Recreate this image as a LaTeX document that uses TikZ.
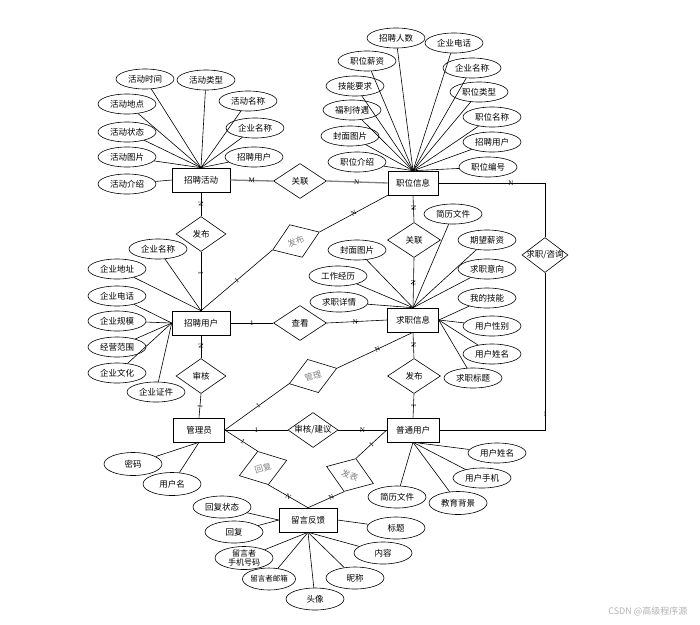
\documentclass[tikz,border=0pt]{standalone}
\usepackage{fontspec}
\setmainfont{Noto Sans CJK SC}
\newfontfamily\cardfont{Liberation Serif}
\usetikzlibrary{shapes.geometric}

\begin{document}
\begin{tikzpicture}[x=1pt,y=-1pt,line width=0.6pt,
  ent/.style={draw,minimum width=58pt,minimum height=24pt,inner sep=0pt,font=\fontsize{8.5}{10}\selectfont},
  attr/.style={ellipse,draw,minimum width=58pt,minimum height=20pt,inner sep=0pt,font=\fontsize{8.5}{10}\selectfont},
  rel/.style={diamond,draw,minimum width=50pt,minimum height=35pt,inner sep=0pt,font=\fontsize{8.5}{10}\selectfont},
  relg/.style={rel,text=gray},
  card/.style={font=\cardfont\fontsize{7}{8}\selectfont,sloped,inner sep=1pt}]
  \useasboundingbox (0,0) rectangle (700,624);

  \node[ent] (act) at (201,180) {招聘活动};
  \node[ent,minimum width=50pt] (job) at (413,183) {职位信息};
  \node[ent] (rec) at (201,323) {招聘用户};
  \node[ent,minimum width=51pt] (seek) at (413,320) {求职信息};
  \node[ent,minimum width=51pt] (admin) at (199,430) {管理员};
  \node[ent,minimum width=52pt] (user) at (413,430) {普通用户};
  \node[ent] (msg) at (308,520) {留言反馈};

  \node[rel,minimum width=53pt] (link1) at (300,181) {关联};
  \node[rel] (pub1) at (201,234) {发布};
  \node[relg,rotate=21] (pub2) at (296,241) {发布};
  \node[rel,minimum width=53pt] (view) at (300,323) {查看};
  \node[rel] (aud) at (201,376) {审核};
  \node[relg,rotate=18] (mgr) at (313,376) {管理};
  \node[rel,minimum width=53pt] (link2) at (414,240) {关联};
  \node[rel,minimum width=53pt] (pub3) at (414,376) {发布};
  \node[rel] (adv) at (313,430) {\makebox[0pt]{审核/建议}};
  \node[relg,rotate=18] (reply) at (263,468) {回复};
  \node[relg,rotate=-20] (post) at (350,475) {发表};
  \node[rel,minimum width=46pt] (ask) at (545,255) {\makebox[0pt]{求职/咨询}};

  \node[attr] (a1) at (145,79) {活动时间};
  \node[attr] (a2) at (206,80) {活动类型};
  \node[attr] (a3) at (127,104) {活动地点};
  \node[attr] (a4) at (248,101) {活动名称};
  \node[attr] (a5) at (127,132) {活动状态};
  \node[attr] (a6) at (255,128) {企业名称};
  \node[attr] (a7) at (127,157) {活动图片};
  \node[attr] (a8) at (254,157) {招聘用户};
  \node[attr] (a9) at (127,184) {活动介绍};

  \node[attr] (j1) at (396,38) {招聘人数};
  \node[attr] (j2) at (454,43) {企业电话};
  \node[attr] (j3) at (367,61) {职位薪资};
  \node[attr] (j4) at (472,68) {企业名称};
  \node[attr] (j5) at (355,86) {技能要求};
  \node[attr] (j6) at (479,92) {职位类型};
  \node[attr] (j7) at (352,110) {福利待遇};
  \node[attr] (j8) at (492,117) {职位名称};
  \node[attr] (j9) at (350,136) {封面图片};
  \node[attr] (j10) at (492,142) {招聘用户};
  \node[attr] (j11) at (357,162) {职位介绍};
  \node[attr] (j12) at (488,167) {职位编号};

  \node[attr] (r1) at (158,249) {企业名称};
  \node[attr] (r2) at (117,269) {企业地址};
  \node[attr] (r3) at (117,296) {企业电话};
  \node[attr] (r4) at (117,321) {企业规模};
  \node[attr] (r5) at (117,347) {经营范围};
  \node[attr] (r6) at (117,373) {企业文化};
  \node[attr] (r7) at (156,392) {企业证件};

  \node[attr] (s1) at (453,214) {简历文件};
  \node[attr] (s2) at (357,250) {封面图片};
  \node[attr] (s3) at (487,240) {期望薪资};
  \node[attr] (s4) at (338,276) {工作经历};
  \node[attr] (s5) at (487,269) {求职意向};
  \node[attr] (s6) at (339,302) {求职详情};
  \node[attr] (s7) at (487,298) {我的技能};
  \node[attr] (s8) at (492,326) {用户性别};
  \node[attr] (s9) at (492,354) {用户姓名};
  \node[attr] (s10) at (473,378) {求职标题};

  \node[attr,minimum height=23pt] (m1) at (133,464) {密码};
  \node[attr,minimum height=23pt] (m2) at (172,484) {用户名};

  \node[attr,minimum height=22pt] (f1) at (222,507) {回复状态};
  \node[attr,minimum height=22pt] (f2) at (234,532) {回复};
  \node[attr,minimum height=23pt,align=center,font=\fontsize{8}{8.5}\selectfont] (f3) at (244,558) {留言者\\手机号码};
  \node[attr,minimum width=50pt,minimum height=22pt,font=\fontsize{7.5}{9}\selectfont] (f4) at (269,579) {留言者邮箱};
  \node[attr,minimum height=22pt] (f5) at (315,599) {头像};
  \node[attr,minimum height=22pt] (f6) at (355,578) {昵称};
  \node[attr,minimum height=22pt] (f7) at (383,553) {内容};
  \node[attr,minimum height=22pt] (f8) at (396,528) {标题};

  \node[attr] (u1) at (497,453) {用户姓名};
  \node[attr] (u2) at (482,478) {用户手机};
  \node[attr,minimum height=22pt] (u3) at (397,497) {简历文件};
  \node[attr,minimum height=23pt] (u4) at (458,503) {教育背景};

  \node[text=gray!60,font=\fontsize{9}{10}\selectfont,anchor=east] (wm) at (691,611) {CSDN @高级程序源};

  \draw (a1) -- (act.north);
  \draw (a2) -- (act.north);
  \draw (a3) -- (act.north);
  \draw (a4) -- (act.north);
  \draw (a5) -- (act.north);
  \draw (a6) -- (act.north);
  \draw (a7) -- (act.north);
  \draw (a8) -- (act.north);
  \draw (a9) -- (act.west);

  \draw (j1) -- (job.north);
  \draw (j2) -- (job.north);
  \draw (j3) -- (job.north);
  \draw (j4) -- (job.north);
  \draw (j5) -- (job.north);
  \draw (j6) -- (job.north);
  \draw (j7) -- (job.north);
  \draw (j8) -- (job.north);
  \draw (j9) -- (job.north);
  \draw (j10) -- (job.north);
  \draw (j11) -- (job.north);
  \draw (j12) -- (job.north);

  \draw (r1) -- (rec.north);
  \draw (r2) -- (rec.north);
  \draw (r3) -- (rec.west);
  \draw (r4) -- (rec.west);
  \draw (r5) -- (rec.west);
  \draw (r6) -- (rec.west);
  \draw (r7) -- (rec.west);

  \draw (s1) -- (seek.north);
  \draw (s2) -- (seek.north);
  \draw (s3) -- (seek.north);
  \draw (s4) -- (seek.north);
  \draw (s5) -- (seek.north);
  \draw (s6) -- (seek.north);
  \draw (s7) -- (seek.east);
  \draw (s8) -- (seek.east);
  \draw (s9) -- (seek.east);
  \draw (s10) -- (seek.east);

  \draw (m1) -- (admin.south);
  \draw (m2) -- (admin.south);

  \draw (f1) -- (msg.west);
  \draw (f2) -- (msg.west);
  \draw (f3) -- (msg.south);
  \draw (f4) -- (msg.south);
  \draw (f5) -- (msg.south);
  \draw (f6) -- (msg.south);
  \draw (f7) -- (msg.south);
  \draw (f8) -- (msg.east);

  \draw (u1) -- (user.south);
  \draw (u2) -- (user.south);
  \draw (u3) -- (user.south);
  \draw (u4) -- (user.south);

  \draw[gray,line width=1.3pt] (act.east) -- node[card,text=black,pos=0.5] {M} (link1.west);
  \draw[gray,line width=1.3pt] (link1.east) -- node[card,text=black,pos=0.49] {N} (job.west);
  \draw (act.south) -- node[card] {N} (pub1.north);
  \draw (pub1.south) -- node[card,pos=0.37] {1} (rec.north);
  \draw (rec.north) -- node[card] {1} (pub2.west);
  \draw (pub2.east) -- node[card] {N} (job.south west);
  \draw (rec.east) -- node[card] {1} (view.west);
  \draw (view.east) -- node[card,pos=0.47] {N} (seek.west);
  \draw (rec.south) -- node[card,pos=0.45] {N} (aud.north);
  \draw (aud.south) -- node[card,pos=0.55] {1} (admin.north);
  \draw (admin.east) -- node[card,pos=0.52] {1} (mgr.west);
  \draw (mgr.east) -- node[card,pos=0.53] {N} (seek.south);
  \draw (job.south) -- node[card,pos=0.48] {N} (link2.north);
  \draw (link2.south) -- node[card] {N} (seek.north);
  \draw (seek.south) -- node[card,pos=0.48] {N} (pub3.north);
  \draw (pub3.south) -- node[card,pos=0.48] {1} (user.north);
  \draw (admin.east) -- node[card] {1} (adv.west);
  \draw (adv.east) -- node[card] {N} (user.west);
  \draw (admin.east) -- node[card,pos=0.55] {1} (reply.north);
  \draw (reply.south) -- node[card] {N} (msg.north);
  \draw (user.west) -- node[card] {1} (post.north);
  \draw (post.south) -- node[card,pos=0.35] {N} (msg.north);
  \draw (job.east) -| node[card,pos=0.34] {N} (ask.north);
  \draw (ask.south) |- node[card,sloped=false,pos=0.45] {1} (user.east);
\end{tikzpicture}
\end{document}
